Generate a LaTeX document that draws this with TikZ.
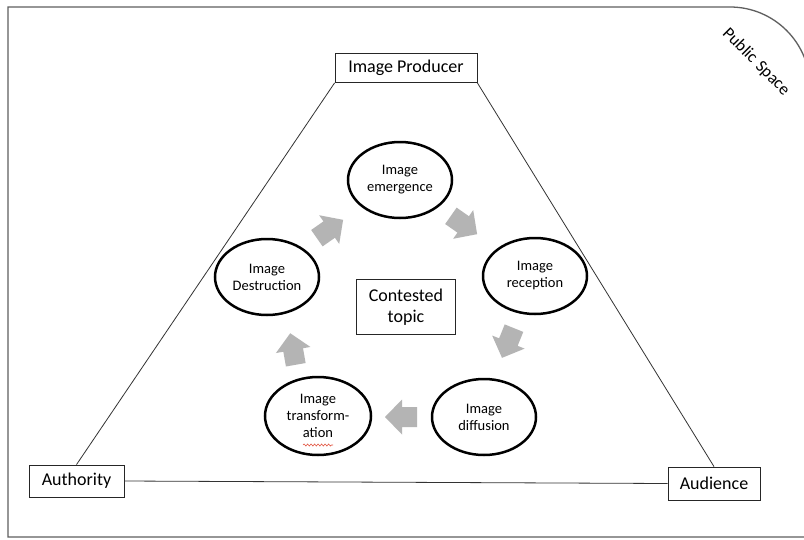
\documentclass[tikz,border=0pt]{standalone}
\usepackage{fontspec}
\setmainfont{Carlito}
\usetikzlibrary{shapes.geometric,decorations.pathmorphing,calc}
\definecolor{arrowgray}{RGB}{180,180,180}
\definecolor{framegray}{RGB}{95,95,95}
\definecolor{spellred}{RGB}{225,80,60}
\begin{document}
\begin{tikzpicture}[x=1pt,y=-1pt,
  labelbox/.style={draw=black!85, line width=0.8pt, fill=white, inner sep=0pt, font=\fontsize{18}{21}\selectfont},
  stage/.style={draw=black, ellipse, line width=2.5pt, minimum width=104pt, minimum height=76pt, inner sep=0pt, align=center, font=\fontsize{14.5}{17}\selectfont},
  blockarrow/.pic={\fill[arrowgray] (16,0) -- (-1,-17.5) -- (-1,-10) -- (-16,-10) -- (-16,10) -- (-1,10) -- (-1,17.5) -- cycle;},
  sideline/.style={draw=black!80, line width=0.8pt}
]
\useasboundingbox (0,0) rectangle (804,539);
\fill[white] (0,0) rectangle (804,539);
% frame (public space)
\draw[framegray, line width=1.3pt] (8,537) -- (8,7) -- (730,7) arc[start angle=-90, end angle=0, radius=80] -- (810,537) -- cycle;
\node[rotate=-45, font=\fontsize{17}{20}\selectfont] (public) at (756,62) {Public\hspace{0.3em}Space};

% actors
\node[labelbox, minimum width=142pt, minimum height=29pt] (producer) at (406,68) {Image Producer};
\node[labelbox, minimum width=95pt, minimum height=32pt] (authority) at (76.5,481) {Authority};
\node[labelbox, minimum width=92pt, minimum height=33pt] (audience) at (714,483.5) {Audience};

\draw[sideline] (producer.south west) -- (authority.north);
\draw[sideline] (producer.south east) -- (audience.north);
\draw[sideline] (authority.east) -- (audience.west);

% stages
\node[stage] (emergence) at (400,180) {Image\\emergence};
\node[stage] (reception) at (535,276) {Image\\reception};
\node[stage] (diffusion) at (484,417) {Image\\diffusion};
\node[stage, minimum width=106pt, minimum height=78pt] (transformation) at (318,416) {Image\\transform-\\ation};
\node[stage] (destruction) at (267,277) {Image\\Destruction};

\node[labelbox, minimum width=99pt, minimum height=55pt, align=center] (topic) at (406,307) {Contested\\topic};

% spelling underline
\coordinate (sqA) at ($(transformation.center)+(-15,29)$);
\coordinate (sqB) at ($(transformation.center)+(15,29)$);
\draw[spellred, line width=0.6pt, decorate, decoration={snake, amplitude=1pt, segment length=3.5pt}] (sqA) -- (sqB);

% cycle arrows
\pic[rotate=35] at (330,229) {blockarrow};
\pic[rotate=-35] at (464,225) {blockarrow};
\pic[rotate=-112] at (508,343) {blockarrow};
\pic[rotate=180] at (401,417) {blockarrow};
\pic[rotate=100] at (293,349) {blockarrow};
\end{tikzpicture}
\end{document}
